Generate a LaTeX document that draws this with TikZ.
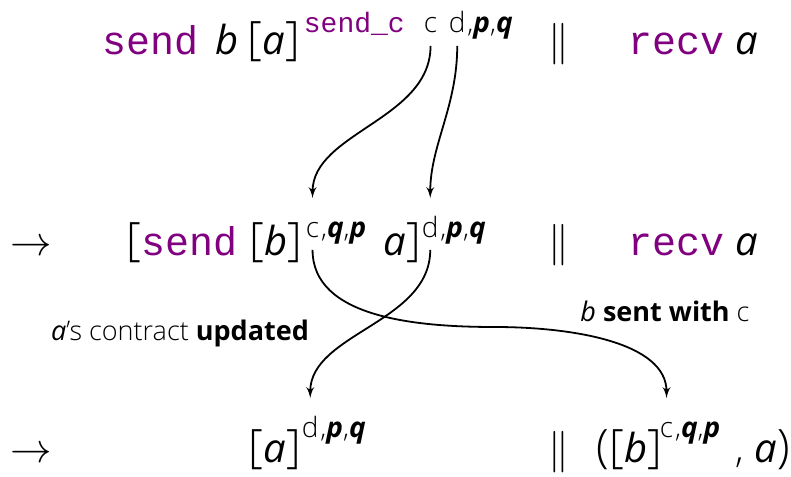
\documentclass[tikz,border=0pt]{standalone}
\usepackage{fontspec}
\setmainfont{Open Sans}[UprightFont=* Light,ItalicFont=* Italic,BoldFont=* Bold,BoldItalicFont=* Bold Italic]
\setmonofont{Liberation Mono}
\usetikzlibrary{arrows,positioning}

\definecolor{kwpurple}{RGB}{128,0,128}
\newcommand{\kw}[1]{\textcolor{kwpurple}{\texttt{#1}}}
\newcommand{\pv}[1]{\textit{#1}}
\newcommand{\pr}[1]{\textbf{\textit{#1}}}
% brackets and parentheses a bit larger than the letters
\newcommand{\lsq}{{\fontsize{23}{24}\selectfont[}}
\newcommand{\rsq}{{\fontsize{23}{24}\selectfont]}}
\newcommand{\lpr}{{\fontsize{23}{24}\selectfont(}}
\newcommand{\rpr}{{\fontsize{23}{24}\selectfont)}}

\begin{document}
\begin{tikzpicture}[->,>=latex',x=0.5pt,y=0.5pt,line width=0.9pt]
\tikzstyle{term}=[inner sep=0pt,anchor=base west,font=\fontsize{20}{24}\selectfont]
\tikzstyle{sup}=[inner sep=0pt,anchor=base west,text height=9pt,text depth=0pt,font=\fontsize{14}{17}\selectfont]
\tikzstyle{note}=[inner sep=0pt,font=\fontsize{13.5}{16}\selectfont]
\tikzstyle{flow}=[shorten <=6pt,shorten >=10pt]

\useasboundingbox (0,0) rectangle (791,-476);

% first configuration
\node[term] (send1) at (102,-55) {\kw{send}};
\node[term] (b1) at (215,-55) {\pv{b}};
\node[term] (a1) at (247,-55) {\lsq\pv{a}\rsq};
\node[sup] (sendc1) at (303,-33) {\kw{send\_c}};
\node[sup] (c1) at (423,-33) {c};
\node[sup] (d1) at (448,-33) {d};
\node[sup] (pq1) [base right=0pt of d1] {,\pr{p},\pr{q}};
\node[term] (par1) at (548,-55) {$\parallel$};
\node[term] (recv1) at (628,-55) {\kw{recv} \pv{a}};

% after the send step
\node[term] (arr2) at (10,-255) {$\rightarrow$};
\node[term] (send2) at (126,-255) {\lsq\kw{send}};
\node[term] (b2) at (249,-255) {\lsq\pv{b}\rsq};
\node[sup] (c2) at (305,-237) {c};
\node[sup] (qp2) [base right=0pt of c2] {,\pr{q},\pr{p}};
\node[term] (a2) at (383,-255) {\pv{a}\rsq};
\node[sup] (d2) at (421,-237) {d};
\node[sup] (pq2) [base right=0pt of d2] {,\pr{p},\pr{q}};
\node[term] (par2) at (548,-255) {$\parallel$};
\node[term] (recv2) at (628,-255) {\kw{recv} \pv{a}};

% after the receive step
\node[term] (arr3) at (10,-462) {$\rightarrow$};
\node[term] (a3) at (248,-462) {\lsq\pv{a}\rsq};
\node[sup] (d3) at (301,-437) {d};
\node[sup] (pq3) [base right=0pt of d3] {,\pr{p},\pr{q}};
\node[term] (par3) at (548,-462) {$\parallel$};
\node[term] (b3) at (596,-462) {\lpr\lsq\pv{b}\rsq};
\node[sup] (c3) at (659,-437) {c};
\node[sup] (qp3) [base right=0pt of c3] {,\pr{q},\pr{p}};
\node[term] (a3b) at (735,-462) {, \pv{a}\rpr};

\node[note] (updated) at (180,-333) {\pv{a}'s contract \textbf{updated}};
\node[note] (sentwith) at (665,-311) {\pv{b} \textbf{sent with} c};

% contracts moving between steps
\coordinate (sentmid) at (495,-327);
\draw[flow] (c1) to[out=-90,in=90] (c2);
\draw[flow] (d1) to[out=-90,in=90] (d2);
\draw[flow] (c2) to[out=-90,in=180] (sentmid) to[out=0,in=90] (c3);
\draw[flow] (d2) to[out=-90,in=90] (d3);
\end{tikzpicture}
\end{document}
